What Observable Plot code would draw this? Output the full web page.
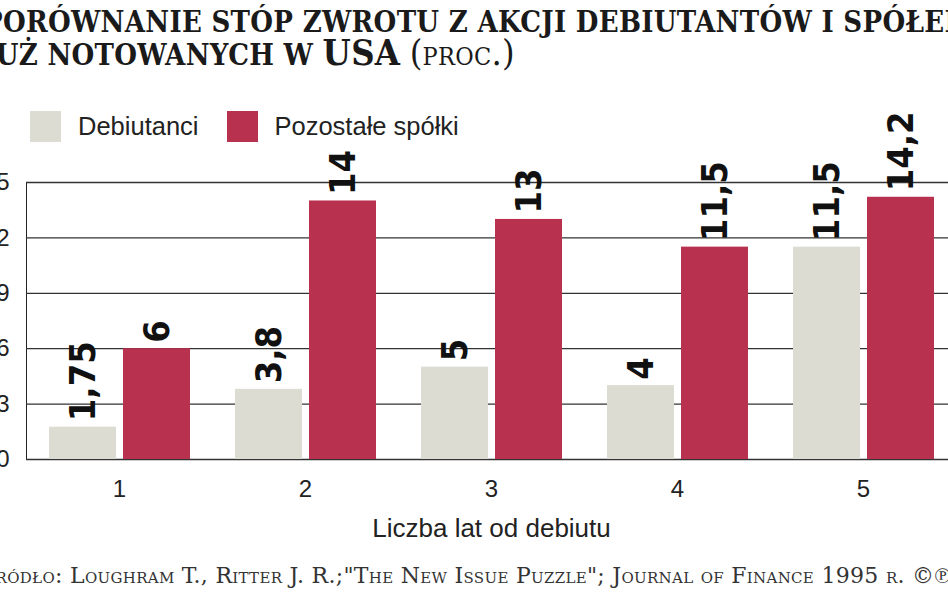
<!DOCTYPE html>
<html>
<head>
<meta charset="utf-8">
<script src="https://cdn.jsdelivr.net/npm/d3@7"></script>
<script src="https://cdn.jsdelivr.net/npm/@observablehq/plot@0.6"></script>
<style>
  html, body { margin: 0; padding: 0; background: #fff; }
  body { width: 948px; height: 593px; overflow: hidden; position: relative; }
  #wrap { position: absolute; left: -40px; top: 0; width: 1100px; height: 593px; }
  #title { position: absolute; left: 23px; top: 7px; white-space: nowrap;
    font-family: "DejaVu Serif Condensed", "DejaVu Serif", serif; font-weight: bold;
    text-transform: uppercase; font-size: 29px; line-height: 30px; letter-spacing: 0.3px; color: #1a1a1a; }
  #title .big { font-size: 36px; }
  #title .light { font-weight: normal; font-size: 36px; text-transform: none; font-variant: small-caps; }
  #legend { position: absolute; left: 70px; top: 111px; height: 31px; display: flex; align-items: center;
    font-family: "Liberation Sans", Arial, sans-serif; font-size: 25.5px; color: #222; }
  #legend .item { display: flex; align-items: center; margin-right: 28px; }
  #legend .sw { width: 31px; height: 31px; margin-right: 17px; }
  #chart { position: absolute; left: 0; top: 90px; }
  #chart g[aria-label="fx-axis label"] { font-size: 26px; }
  #caption { position: absolute; left: 20px; top: 563px; white-space: nowrap;
    font-family: "DejaVu Serif", serif; font-variant: small-caps; font-size: 22px; letter-spacing: 0.3px; color: #333; }
</style>
</head>
<body>
<div id="wrap">
  <div id="title">Porównanie stóp zwrotu z akcji debiutantów i spółek<br>już notowanych w <span class="big">USA</span> <span class="light">(proc.)</span></div>
  <div id="legend"></div>
  <div id="chart"></div>
  <div id="caption">Źródło: Loughram T., Ritter J. R.;"The New Issue Puzzle"; Journal of Finance 1995 r. ©℗</div>
</div>
<script>
const groups = [1, 2, 3, 4, 5];
const series = ["Debiutanci", "Pozostałe spółki"];
const debiutanci = [1.75, 3.8, 5, 4, 11.5];
const pozostale = [6, 14, 13, 11.5, 14.2];
const labelsDeb = ["1,75", "3,8", "5", "4", "11,5"];
const labelsPoz = ["6", "14", "13", "11,5", "14,2"];
const yTicks = [0, 3, 6, 9, 12, 15];
const colors = ["#dcdcd2", "#b8314f"];
const xTitle = "Liczba lat od debiutu";

const data = groups.flatMap((g, i) => [
  {group: g, series: series[0], value: debiutanci[i], label: labelsDeb[i]},
  {group: g, series: series[1], value: pozostale[i], label: labelsPoz[i]}
]);

// legend
const legend = document.getElementById("legend");
series.forEach((s, i) => {
  const it = document.createElement("div");
  it.className = "item";
  it.innerHTML = `<div class="sw" style="background:${colors[i]}"></div><span>${s}</span>`;
  legend.appendChild(it);
});

const chart = Plot.plot({
  width: 1016,
  height: 457,
  marginLeft: 66,
  marginRight: 20,
  marginTop: 92,
  marginBottom: 88,
  style: {fontFamily: "Liberation Sans, Arial, sans-serif", fontSize: "24px", color: "#222", background: "transparent"},
  fx: {domain: groups, padding: 0, tickSize: 0, tickPadding: 20, label: xTitle, labelAnchor: "center", labelOffset: 77},
  x: {domain: series, axis: null, paddingInner: 0.095, paddingOuter: 0.2975},
  y: {domain: [0, 15], ticks: yTicks, tickSize: 0, tickPadding: 17, label: null, line: true},
  color: {domain: series, range: colors},
  marks: [
    Plot.gridY(yTicks, {stroke: "#333", strokeOpacity: 1, strokeWidth: 1.3}),
    Plot.barY(data, {fx: "group", x: "series", y: "value", fill: "series"}),
    Plot.text(data, {fx: "group", x: "series", y: "value", text: "label", rotate: -90,
      textAnchor: "start", lineAnchor: "middle", dy: -6, fill: "#111",
      fontFamily: "DejaVu Sans Condensed, DejaVu Sans, sans-serif", fontWeight: "bold", fontSize: 36})
  ]
});
document.getElementById("chart").appendChild(chart);
</script>
</body>
</html>
